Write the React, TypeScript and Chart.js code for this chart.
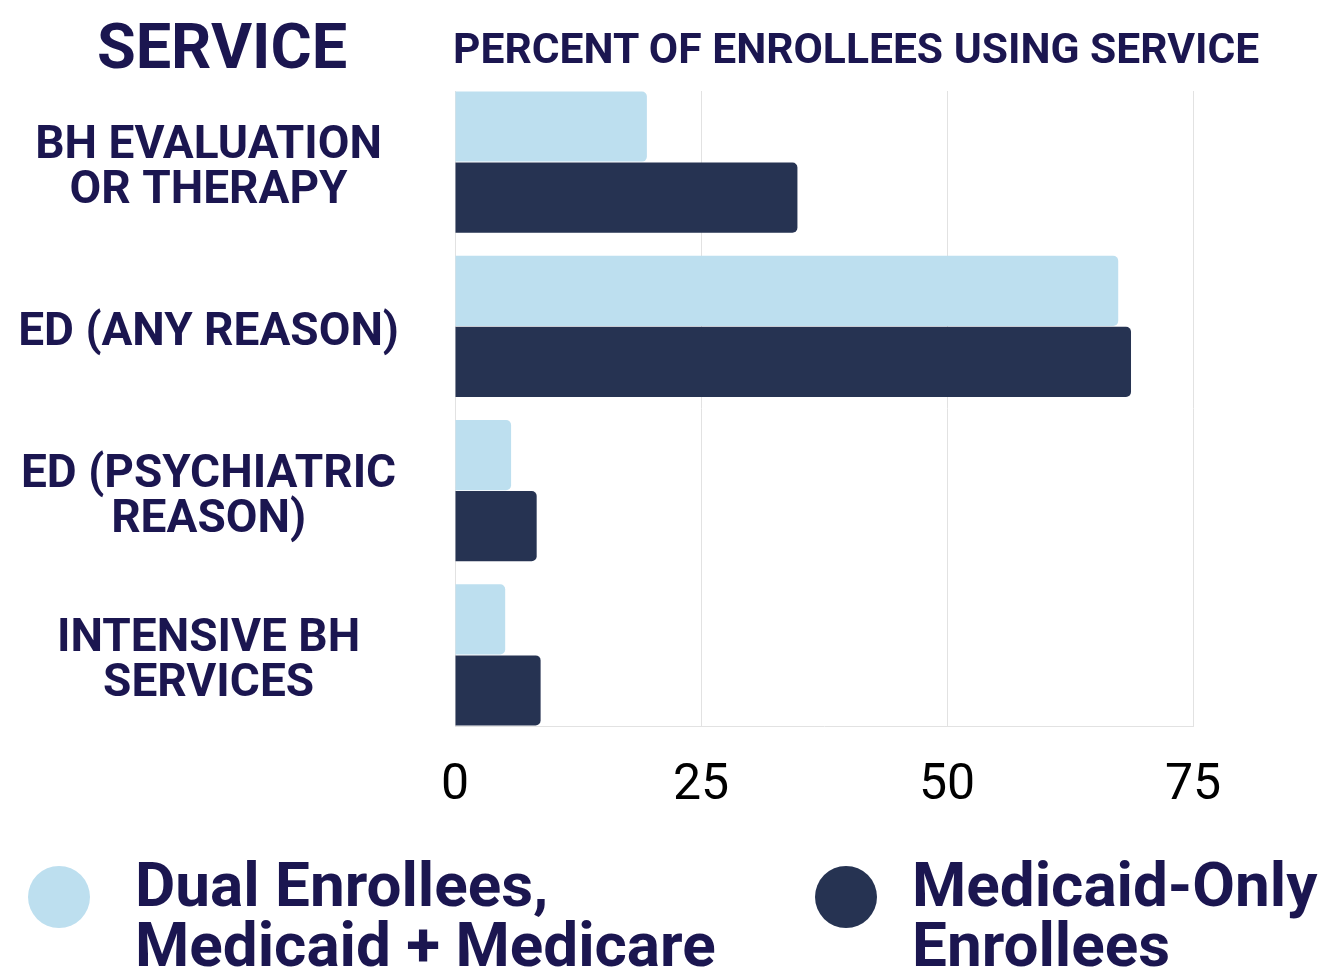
import React, { useEffect, useRef } from "react";
import { Chart, registerables } from "chart.js";

Chart.register(...registerables);

const categories: string[][] = [
  ["BH EVALUATION", "OR THERAPY"],
  ["ED (ANY REASON)"],
  ["ED (PSYCHIATRIC", "REASON)"],
  ["INTENSIVE BH", "SERVICES"],
];
const dualValues = [19.5, 67.4, 5.7, 5.1];
const medicaidOnlyValues = [34.8, 68.7, 8.3, 8.7];
const xTickValues = [0, 25, 50, 75];
const dualLabel = ["Dual Enrollees,", "Medicaid + Medicare"];
const medicaidOnlyLabel = ["Medicaid-Only", "Enrollees"];
const leftTitle = "SERVICE";
const topTitle = "PERCENT OF ENROLLEES USING SERVICE";

const TEXT = "#1b1650";
const LIGHT = "#bddfef";
const DARK = "#263352";
const GRID = "#e2e2e2";

export default function App() {
  const ref = useRef<HTMLCanvasElement | null>(null);

  useEffect(() => {
    if (!ref.current) return;
    const chart = new Chart(ref.current, {
      type: "bar",
      data: {
        datasets: [
          {
            label: dualLabel.join(" "),
            data: dualValues.map((v, i) => ({ x: v, y: i })),
            backgroundColor: LIGHT,
            borderRadius: 5,
            categoryPercentage: 0.866,
            barPercentage: 0.986,
          },
          {
            label: medicaidOnlyLabel.join(" "),
            data: medicaidOnlyValues.map((v, i) => ({ x: v, y: i })),
            backgroundColor: DARK,
            borderRadius: 5,
            categoryPercentage: 0.866,
            barPercentage: 0.986,
          },
        ],
      },
      options: {
        indexAxis: "y",
        animation: false,
        responsive: false,
        maintainAspectRatio: false,
        layout: { padding: { top: 91, right: 132, bottom: 0, left: 0 } },
        plugins: {
          legend: { display: false },
          tooltip: { enabled: false },
          title: { display: false },
        },
        scales: {
          x: {
            type: "linear",
            min: 0,
            max: 75,
            afterBuildTicks: (scale: any) => {
              scale.ticks = xTickValues.map((v) => ({ value: v }));
            },
            afterFit: (scale: any) => {
              scale.height = 247;
            },
            grid: { color: GRID, drawTicks: false, lineWidth: 1 },
            border: { display: true, color: GRID },
            ticks: {
              color: "#000000",
              padding: 30,
              font: { family: "Roboto", size: 50, weight: "normal" },
            },
          },
          y: {
            type: "linear",
            reverse: true,
            offset: false,
            grace: 0,
            min: -0.433,
            max: 3.433,
            afterBuildTicks: (scale: any) => {
              scale.ticks = categories.map((_, i) => ({ value: i }));
            },
            afterFit: (scale: any) => {
              scale.width = 455;
              scale.paddingTop = 0;
              scale.paddingBottom = 0;
            },
            grid: { display: false, drawTicks: false, offset: false },
            border: { display: true, color: GRID },
            ticks: {
              color: TEXT,
              crossAlign: "center",
              padding: 56,
              labelOffset: 7,
              font: { family: "Roboto", size: 46, weight: "bold", lineHeight: 0.98 },
              callback: (v: any) => categories[Number(v)] ?? "",
            },
          },
        },
      } as any,
    });
    return () => chart.destroy();
  }, []);

  const legendText: React.CSSProperties = {
    position: "absolute",
    fontFamily: "Roboto",
    fontWeight: 700,
    fontSize: 62,
    lineHeight: "60px",
    color: TEXT,
    whiteSpace: "nowrap",
  };
  const dot = (color: string, cx: number): React.CSSProperties => ({
    position: "absolute",
    left: cx - 31,
    top: 897 - 31,
    width: 62,
    height: 62,
    borderRadius: "50%",
    background: color,
  });

  return (
    <div style={{ position: "absolute", left: 0, top: 0, width: 1325, height: 973, background: "#fff", overflow: "hidden" }}>
      <canvas ref={ref} width={1325} height={973} style={{ position: "absolute", left: 0, top: 0, width: 1325, height: 973 }} />
      <div
        style={{
          position: "absolute",
          left: 0,
          top: 15,
          width: 444,
          textAlign: "center",
          fontFamily: "Roboto",
          fontWeight: 700,
          fontSize: 63,
          lineHeight: "63px",
          color: TEXT,
        }}
      >
        {leftTitle}
      </div>
      <div
        style={{
          position: "absolute",
          left: 453,
          top: 27,
          fontFamily: "Roboto",
          fontWeight: 700,
          fontSize: 42.6,
          lineHeight: "43px",
          color: TEXT,
          whiteSpace: "nowrap",
        }}
      >
        {topTitle}
      </div>
      <div style={dot(LIGHT, 59)} />
      <div style={{ ...legendText, left: 135, top: 855 }}>
        {dualLabel[0]}
        <br />
        {dualLabel[1]}
      </div>
      <div style={dot(DARK, 846)} />
      <div style={{ ...legendText, left: 912, top: 855 }}>
        {medicaidOnlyLabel[0]}
        <br />
        {medicaidOnlyLabel[1]}
      </div>
    </div>
  );
}
